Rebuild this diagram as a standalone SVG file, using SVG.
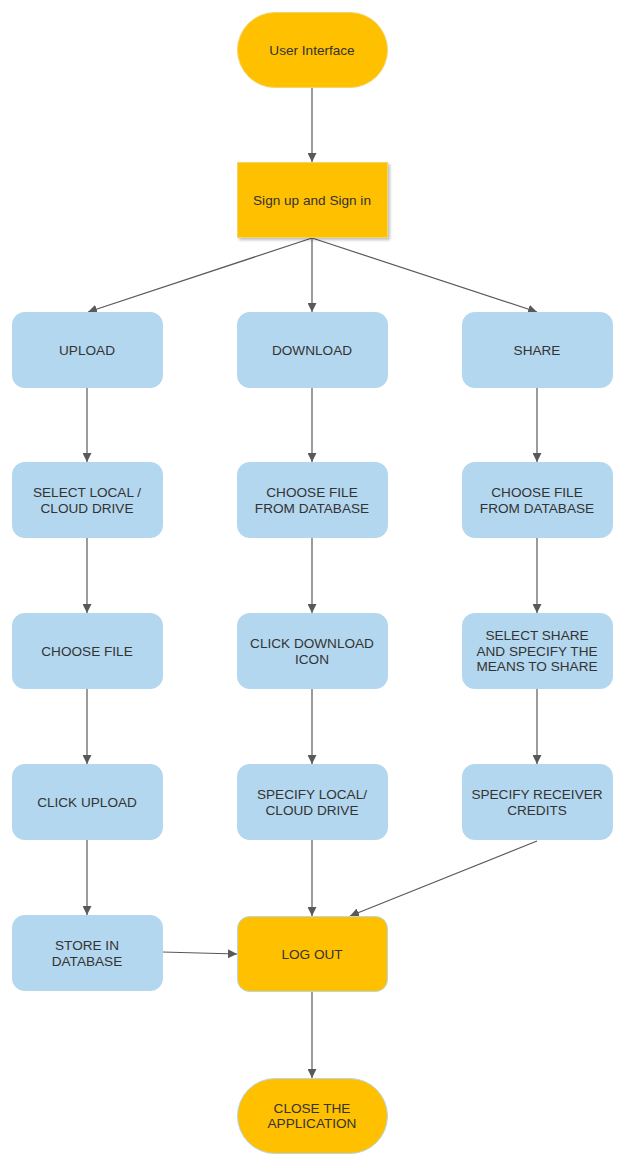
<svg xmlns="http://www.w3.org/2000/svg" width="625" height="1167" viewBox="0 0 625 1167">
<defs>
<style>
.b{fill:#b3d7ef;stroke:#b3d7ef;stroke-width:1}
.o{fill:#ffc000;stroke:#f4d36e;stroke-width:1}
.ob{fill:#ffc000;stroke:#b3d7ef;stroke-width:1}
text{font-family:"Liberation Sans",Arial,sans-serif;font-size:13.6px;fill:#333333;text-anchor:middle}
.c line{stroke:#595959;stroke-width:1.2;fill:none;marker-end:url(#ah)}
</style>
<marker id="ah" markerUnits="userSpaceOnUse" markerWidth="9" markerHeight="9" refX="9" refY="4.5" orient="auto">
<path d="M0,0 L9,4.5 L0,9 z" fill="#595959"/>
</marker>
<filter id="sh" x="-10%" y="-10%" width="130%" height="130%">
<feGaussianBlur in="SourceAlpha" stdDeviation="1.5"/>
<feOffset dx="2" dy="2"/>
<feComponentTransfer><feFuncA type="linear" slope="0.25"/></feComponentTransfer>
<feMerge><feMergeNode/><feMergeNode in="SourceGraphic"/></feMerge>
</filter>
</defs>
<rect width="625" height="1167" fill="#ffffff"/>
<g class="c" id="connectors">
<line x1="312" y1="87" x2="312" y2="162"/>
<line x1="312" y1="238" x2="88" y2="312"/>
<line x1="312" y1="238" x2="312" y2="312"/>
<line x1="312" y1="238" x2="537" y2="312"/>
<line x1="87" y1="387" x2="87" y2="462"/>
<line x1="87" y1="537" x2="87" y2="613"/>
<line x1="87" y1="688" x2="87" y2="764"/>
<line x1="87" y1="839" x2="87" y2="915"/>
<line x1="312" y1="387" x2="312" y2="462"/>
<line x1="312" y1="537" x2="312" y2="613"/>
<line x1="312" y1="688" x2="312" y2="764"/>
<line x1="312" y1="839" x2="312" y2="916"/>
<line x1="537" y1="387" x2="537" y2="462"/>
<line x1="537" y1="537" x2="537" y2="613"/>
<line x1="537" y1="688" x2="537" y2="764"/>
<line x1="537" y1="841" x2="350" y2="916"/>
<line x1="162" y1="952" x2="237" y2="954"/>
<line x1="312" y1="991" x2="312" y2="1078"/>
</g>
<g id="user-interface"><rect class="o" x="237.5" y="12.5" width="150" height="75" rx="37.5"/><text x="312" y="55">User Interface</text></g>
<g id="sign-in"><rect class="o" x="237.5" y="162.5" width="150" height="75" filter="url(#sh)"/><text x="312" y="205">Sign up and Sign in</text></g>
<g id="upload"><rect class="b" x="12.5" y="312.5" width="150" height="75" rx="12"/><text x="87" y="355">UPLOAD</text></g>
<g id="download"><rect class="b" x="237.5" y="312.5" width="150" height="75" rx="12"/><text x="312" y="355">DOWNLOAD</text></g>
<g id="share"><rect class="b" x="462.5" y="312.5" width="150" height="75" rx="12"/><text x="537" y="355">SHARE</text></g>
<g id="select-local"><rect class="b" x="12.5" y="462.5" width="150" height="75" rx="12"/><text x="87" y="497">SELECT LOCAL /</text><text x="87" y="513">CLOUD DRIVE</text></g>
<g id="choose-db-1"><rect class="b" x="237.5" y="462.5" width="150" height="75" rx="12"/><text x="312" y="497">CHOOSE FILE</text><text x="312" y="513">FROM DATABASE</text></g>
<g id="choose-db-2"><rect class="b" x="462.5" y="462.5" width="150" height="75" rx="12"/><text x="537" y="497">CHOOSE FILE</text><text x="537" y="513">FROM DATABASE</text></g>
<g id="choose-file"><rect class="b" x="12.5" y="613.5" width="150" height="75" rx="12"/><text x="87" y="656">CHOOSE FILE</text></g>
<g id="click-download"><rect class="b" x="237.5" y="613.5" width="150" height="75" rx="12"/><text x="312" y="648">CLICK DOWNLOAD</text><text x="312" y="664">ICON</text></g>
<g id="select-share"><rect class="b" x="462.5" y="613.5" width="150" height="75" rx="12"/><text x="537" y="640">SELECT SHARE</text><text x="537" y="656">AND SPECIFY THE</text><text x="537" y="671">MEANS TO SHARE</text></g>
<g id="click-upload"><rect class="b" x="12.5" y="764.5" width="150" height="75" rx="12"/><text x="87" y="807">CLICK UPLOAD</text></g>
<g id="specify-local"><rect class="b" x="237.5" y="764.5" width="150" height="75" rx="12"/><text x="312" y="799">SPECIFY LOCAL/</text><text x="312" y="815">CLOUD DRIVE</text></g>
<g id="specify-receiver"><rect class="b" x="462.5" y="764.5" width="150" height="75" rx="12"/><text x="537" y="799">SPECIFY RECEIVER</text><text x="537" y="815">CREDITS</text></g>
<g id="store"><rect class="b" x="12.5" y="915.5" width="150" height="75" rx="12"/><text x="87" y="950">STORE IN</text><text x="87" y="966">DATABASE</text></g>
<g id="logout"><rect class="ob" x="237.5" y="916.5" width="150" height="75" rx="12"/><text x="312" y="959">LOG OUT</text></g>
<g id="close"><rect class="ob" x="237.5" y="1078.5" width="150" height="75" rx="37.5"/><text x="312" y="1113">CLOSE THE</text><text x="312" y="1128">APPLICATION</text></g>
</svg>
